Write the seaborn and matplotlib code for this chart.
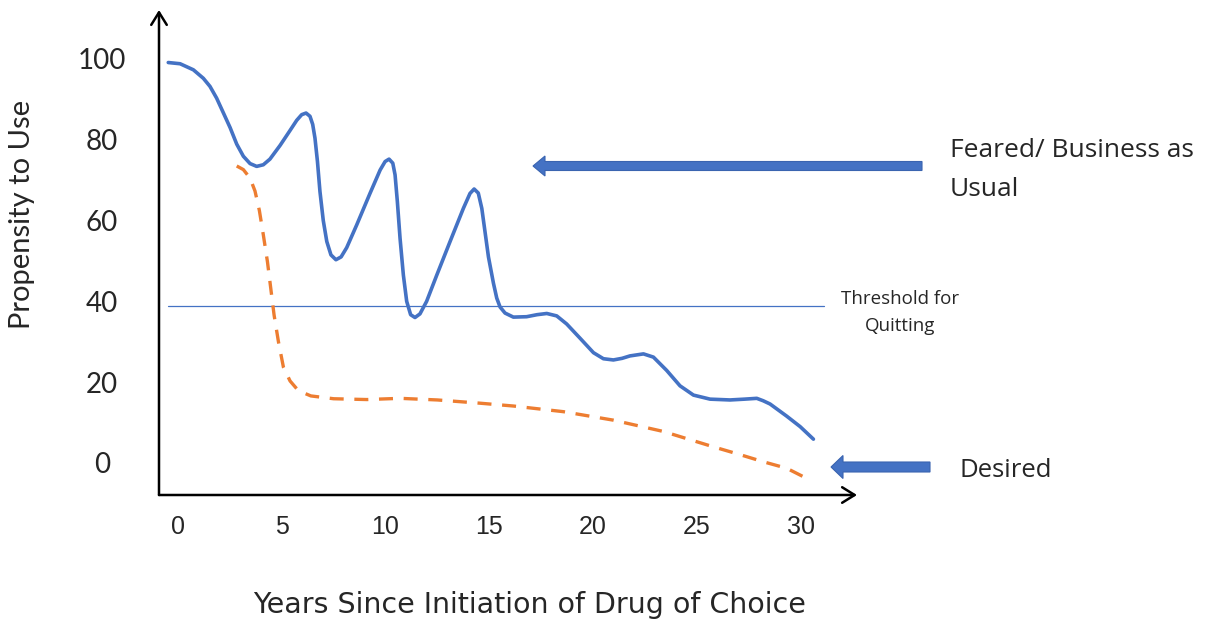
import matplotlib
matplotlib.use("Agg")
import matplotlib.pyplot as plt
from matplotlib.patches import FancyArrow
from matplotlib.transforms import IdentityTransform
import pandas as pd
import seaborn as sns

# ---- data -------------------------------------------------------------
usual_years = [-0.47, 0.10, 0.74, 1.22, 1.54, 1.86, 2.19, 2.51, 2.83, 3.15, 3.47, 3.79,
               4.11, 4.43, 4.92, 5.40, 5.72, 5.96, 6.17, 6.36, 6.49, 6.60, 6.72, 6.84,
               7.00, 7.17, 7.37, 7.61, 7.86, 8.13, 8.61, 9.25, 9.74, 9.98, 10.17, 10.35,
               10.46, 10.57, 10.70, 10.86, 11.02, 11.21, 11.42, 11.66, 11.98, 12.47, 13.11,
               13.75, 14.07, 14.27, 14.47, 14.64, 14.80, 14.96, 15.20, 15.36, 15.52, 15.76,
               16.16, 16.80, 17.30, 17.77, 18.25, 18.73, 19.37, 20.02, 20.50, 20.98, 21.40,
               21.78, 22.43, 22.91, 23.55, 24.19, 24.84, 25.64, 26.60, 27.30, 27.89, 28.20,
               28.53, 29.33, 29.98, 30.62]
usual_values = [99.1, 98.8, 97.3, 95.2, 93.2, 90.3, 86.6, 83.0, 78.9, 75.9, 74.1, 73.4,
                73.8, 75.2, 78.6, 82.3, 84.8, 86.2, 86.6, 85.8, 83.8, 80.4, 74.6, 67.2,
                60.0, 54.8, 51.5, 50.3, 51.0, 53.3, 58.9, 66.7, 72.5, 74.6, 75.2, 74.2,
                71.3, 64.7, 55.6, 46.5, 40.0, 36.7, 36.0, 36.9, 40.0, 46.5, 54.8,
                63.0, 66.7, 67.8, 66.8, 63.0, 57.0, 51.0, 44.5, 40.8, 38.6, 37.1,
                36.1, 36.2, 36.7, 37.0, 36.4, 34.4, 30.9, 27.3, 25.8, 25.5, 25.9,
                26.5, 27.0, 26.2, 22.9, 19.1, 16.8, 15.8, 15.6, 15.8, 16.0, 15.4,
                14.6, 11.6, 9.0, 5.9]

desired_years = [2.83, 3.15, 3.47, 3.71, 3.92, 4.11, 4.31, 4.47, 4.63, 4.84, 5.08, 5.40,
                 5.80, 6.40, 7.50, 9.10, 10.70, 12.50, 14.55, 16.16, 18.57, 20.98, 23.39,
                 25.80, 27.00, 28.21, 29.33, 30.14]
desired_values = [73.5, 72.6, 70.5, 67.3, 62.5, 56.5, 49.8, 43.2, 36.6, 30.0, 23.7, 20.3,
                  17.9, 16.6, 15.9, 15.7, 16.0, 15.6, 14.8, 14.1, 12.7, 10.6, 7.8,
                  4.0, 2.2, 0.3, -1.3, -3.4]

threshold_value = 38.9
threshold_span = [-0.48, 31.15]

x_ticks = [0, 5, 10, 15, 20, 25, 30]
y_ticks = [0, 20, 40, 60, 80, 100]

BLUE = "#4472C4"
ORANGE = "#ED7D31"

usual = pd.DataFrame({"year": usual_years, "value": usual_values})
desired = pd.DataFrame({"year": desired_years, "value": desired_values})
threshold = pd.DataFrame({"year": threshold_span,
                          "value": [threshold_value] * len(threshold_span)})

# ---- figure -----------------------------------------------------------
sns.set_style("white")
plt.rcParams["font.family"] = ["Lato", "DejaVu Sans"]

W, H = 1207, 624
fig = plt.figure(figsize=(W / 100, H / 100), dpi=100)
ax = fig.add_axes([159 / W, 1 - 495 / H, (857 - 159) / W, (495 - 10) / H])
ax.set_xlim(-0.916, 32.72)
ax.set_ylim(-7.92, 112.1)
for s in ax.spines.values():
    s.set_visible(False)

sns.lineplot(data=threshold, x="year", y="value", ax=ax, color=BLUE, linewidth=0.9)
sns.lineplot(data=usual, x="year", y="value", ax=ax, color=BLUE, linewidth=2.6,
             estimator=None, sort=False, solid_capstyle="round", solid_joinstyle="round")
sns.lineplot(data=desired, x="year", y="value", ax=ax, color=ORANGE, linewidth=2.4,
             estimator=None, sort=False, linestyle=(0, (4.2, 3.2)),
             dash_capstyle="butt", dash_joinstyle="round")

# axes drawn as arrows
arrow_kw = dict(arrowstyle="->,head_length=0.45,head_width=0.28", color="black",
                lw=1.8, shrinkA=0, shrinkB=0, mutation_scale=20)
ax.annotate("", xy=(0, 1), xytext=(0, 0), xycoords="axes fraction",
            textcoords="axes fraction", arrowprops=arrow_kw, annotation_clip=False)
ax.annotate("", xy=(1, 0), xytext=(0, 0), xycoords="axes fraction",
            textcoords="axes fraction", arrowprops=arrow_kw, annotation_clip=False)

ax.set_xticks(x_ticks)
ax.set_xticklabels([str(v) for v in x_ticks],
                   family=["Liberation Sans Narrow", "Liberation Sans"], fontsize=18,
                   va="center")
ax.set_yticks(y_ticks)
ax.set_yticklabels([str(v) for v in y_ticks], fontsize=20, ha="center")
ax.tick_params(axis="x", length=0, pad=23)
ax.tick_params(axis="y", length=0, pad=41)
ax.set_xlabel("")
ax.set_ylabel("")
ax.grid(False)


def px(x, y):
    return x / W, 1 - y / H


fig.text(*px(22, 214), "Propensity to Use", rotation=90, ha="center", va="center",
         fontsize=21)
fig.text(*px(530, 605), "Years Since Initiation of Drug of Choice", ha="center",
         va="center", fontsize=20.5, family=["DejaVu Sans"])

fig.text(*px(950, 157), "Feared/ Business as", ha="left", va="baseline",
         fontsize=19, family=["Open Sans", "DejaVu Sans"])
fig.text(*px(950, 196), "Usual", ha="left", va="baseline",
         fontsize=19, family=["Open Sans", "DejaVu Sans"])
fig.text(*px(959, 477), "Desired", ha="left", va="baseline",
         fontsize=18.5, family=["Open Sans", "DejaVu Sans"])
fig.text(*px(900, 304), "Threshold for", ha="center", va="baseline",
         fontsize=13.5, family=["Open Sans", "DejaVu Sans"])
fig.text(*px(900, 331), "Quitting", ha="center", va="baseline",
         fontsize=13.5, family=["Open Sans", "DejaVu Sans"])

# block arrows pointing at the two curves
for tail, tip, yc, shaft, head_w, head_l in [(922, 533, 166, 9, 20, 12),
                                             (930, 831, 467, 10, 23, 12)]:
    fig.add_artist(FancyArrow(tail, H - yc, tip - tail, 0, width=shaft,
                              head_width=head_w, head_length=head_l,
                              length_includes_head=True, facecolor=BLUE,
                              edgecolor="#3A64B0", linewidth=0.8,
                              transform=IdentityTransform()))

fig.savefig("out.png", dpi=100, facecolor="white")
